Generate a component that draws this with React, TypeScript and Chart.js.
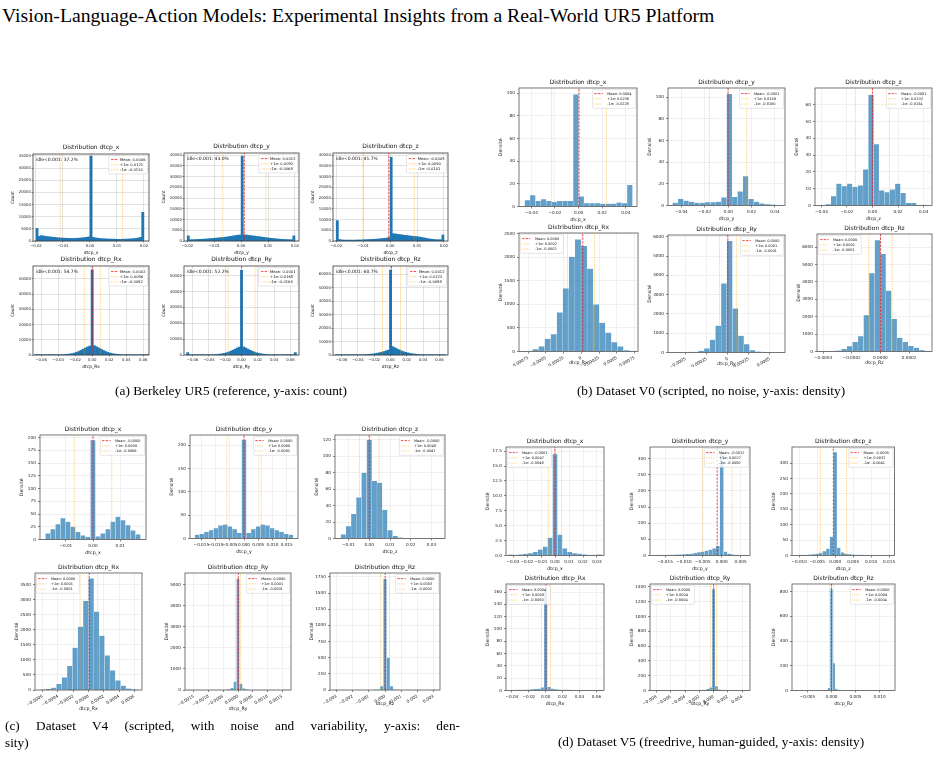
import React, { useEffect, useRef } from "react";
import { Chart, registerables } from "chart.js";

Chart.register(...registerables);

const SANS = "'DejaVu Sans', sans-serif";
const SERIF = "'Liberation Serif', 'Times New Roman', serif";

// ---------------- (a) Berkeley UR5: raw counts ----------------
const aTransBins = [-0.02, 0.0008]; // start, width (50 bins)
const aRotBins = [-0.0673, 0.00264]; // start, width (51 bins)
const aTransTicks = [-0.02, -0.01, 0, 0.01, 0.02];
const aTransTickLabels = ["−0.02", "−0.01", "0.00", "0.01", "0.02"];
const aRotTicks = [-0.06, -0.04, -0.02, 0, 0.02, 0.04, 0.06];
const aRotTickLabels = ["−0.06", "−0.04", "−0.02", "0.00", "0.02", "0.04", "0.06"];
const idleShares = [37.2, 43.0, 41.7, 54.7, 52.2, 60.7];

const a1Counts = [5200, 1900, 2200, 2100, 1900, 1800, 1700, 1600, 1500, 1400, 1300, 1250, 1200, 1150, 1100, 1100, 1050, 1050, 1100, 1150, 1200, 1300, 1400, 1500, 1700, 34900, 1500, 1300, 1150, 1050, 950, 900, 850, 800, 800, 750, 750, 700, 700, 700, 750, 750, 800, 850, 900, 1000, 1100, 1250, 1500, 11800];
const a2Counts = [2400, 600, 600, 650, 700, 750, 800, 850, 900, 1000, 1100, 1150, 1250, 1350, 1450, 1550, 1650, 1750, 1900, 2050, 2200, 2400, 2550, 2700, 2800, 39500, 2900, 2750, 2650, 2500, 2400, 2250, 2100, 2000, 1850, 1700, 1600, 1450, 1300, 1200, 1100, 1000, 900, 800, 750, 700, 650, 600, 600, 2400];
const a3Counts = [9500, 700, 500, 450, 400, 400, 400, 400, 420, 450, 480, 500, 550, 600, 650, 700, 750, 800, 850, 950, 1050, 1150, 1250, 1400, 1600, 39000, 3400, 3300, 3100, 3000, 2850, 2700, 2600, 2450, 2300, 2200, 2100, 2000, 1850, 1700, 1500, 1300, 1100, 950, 800, 700, 600, 550, 600, 2800];
const a4Counts = [250, 60, 60, 60, 70, 70, 80, 90, 100, 120, 150, 200, 260, 350, 480, 650, 900, 1250, 1700, 2300, 3000, 3800, 4600, 5300, 5900, 56000, 6100, 5400, 4600, 3800, 3000, 2300, 1700, 1250, 900, 650, 480, 350, 260, 200, 150, 120, 100, 90, 80, 70, 70, 60, 60, 60, 250];
const a5Counts = [1500, 50, 50, 50, 60, 60, 70, 80, 90, 110, 140, 180, 240, 320, 430, 580, 780, 1050, 1400, 1850, 2400, 3000, 3700, 4400, 5000, 53500, 5100, 4400, 3700, 3000, 2400, 1850, 1400, 1050, 780, 580, 430, 320, 240, 180, 140, 110, 90, 80, 70, 60, 60, 50, 50, 50, 1500];
const a6Counts = [300, 50, 50, 60, 60, 70, 80, 90, 100, 120, 150, 190, 240, 300, 380, 480, 620, 800, 1050, 1350, 1700, 2100, 2600, 3100, 3600, 63000, 6200, 5400, 4600, 3800, 3100, 2500, 2000, 1600, 1250, 950, 720, 540, 400, 300, 230, 180, 140, 110, 90, 80, 70, 60, 60, 50, 300];

// mean, +1 sigma, -1 sigma
const a1Stats = [0.0006, 0.0121, -0.011];
const a2Stats = [0.0012, 0.0092, -0.0068];
const a3Stats = [-0.0005, 0.009, -0.0101];
const a4Stats = [0.0002, 0.0096, -0.0092];
const a5Stats = [0.0001, 0.0165, -0.0164];
const a6Stats = [0.0012, 0.0123, -0.0098];

const a1YTicks = [0, 5000, 10000, 15000, 20000, 25000, 30000, 35000];
const a23YTicks = [0, 5000, 10000, 15000, 20000, 25000, 30000, 35000, 40000];
const a45YTicks = [0, 10000, 20000, 30000, 40000, 50000];
const a6YTicks = [0, 10000, 20000, 30000, 40000, 50000, 60000];

// ---------------- (b) Dataset V0: density ----------------
const bTransTicks = [-0.04, -0.02, 0, 0.02, 0.04];
const bTransTickLabels = ["−0.04", "−0.02", "0.00", "0.02", "0.04"];

const b1Bins = [-0.0457, 0.00457];
const b1Counts = [5.5, 10, 5, 6.5, 5, 4, 5, 5, 5, 99, 9, 3, 3, 3, 2.5, 2.5, 2.5, 3.5, 3, 19];
const b1Stats = [0.0004, 0.0236, -0.0228];
const b2Bins = [-0.0475, 0.004625];
const b2Counts = [2.5, 6, 4.5, 3.5, 2.5, 2.5, 3, 3, 3.5, 7.5, 103, 8, 13, 27, 6, 3.5, 2, 1.2, 0.8, 0.5];
const b2Stats = [-0.0001, 0.0159, -0.016];
const b3Bins = [-0.0409, 0.00418];
const b3Counts = [0.3, 0.8, 5.6, 13, 11.5, 13, 11, 12, 21.5, 66, 36.5, 9, 8, 9.5, 13, 7.5, 1.5, 1.5, 0.3, 0.3];
const b3Stats = [-0.0001, 0.0132, -0.0134];

const b4Bins = [-0.000775, 0.0000856];
const b4Counts = [15, 50, 110, 270, 370, 830, 1340, 2010, 2380, 2240, 1760, 1000, 610, 400, 200, 110, 30, 10];
const b4Stats = [0.00002, 0.000186, -0.000196];
const b4Ticks = [-0.00075, -0.0005, -0.00025, 0, 0.00025, 0.0005, 0.00075];
const b4TickLabels = ["−0.00075", "−0.0005", "−0.00025", "0", "0.00025", "0.0005", "0.00075"];
const b5Bins = [-0.000484, 0.0000675];
const b5Counts = [20, 35, 90, 210, 660, 1390, 3580, 5780, 2280, 870, 435, 120, 50, 20, 10];
const b5Stats = [0.000001, 0.000102, -0.000098];
const b5Ticks = [-0.0005, -0.00025, 0, 0.00025, 0.0005];
const b5TickLabels = ["−0.0005", "−0.00025", "0", "0.00025", "0.0005"];
const b6Bins = [-0.00035, 0.0000388];
const b6Counts = [20, 60, 150, 300, 550, 880, 2080, 4500, 6400, 5600, 3500, 1870, 800, 550, 320, 220, 80, 20];
const b6Stats = [0.000001, 0.000082, -0.000081];
const b6Ticks = [-0.0004, -0.0002, 0, 0.0002];
const b6TickLabels = ["−0.0004", "−0.0002", "0.0000", "0.0002"];

const b12YTicks = [0, 20, 40, 60, 80, 100];
const b3YTicks = [0, 10, 20, 30, 40, 50, 60];
const b4YTicks = [0, 500, 1000, 1500, 2000, 2500];
const b56YTicks = [0, 1000, 2000, 3000, 4000, 5000, 6000];

// ---------------- (c) Dataset V4: density ----------------
const c1Bins = [-0.0175, 0.00184];
const c1Counts = [12, 20, 30, 42, 35, 25, 15, 8, 5, 195, 6, 12, 20, 35, 45, 38, 28, 18, 10];
const c1Stats = [-0.00001, 0.0069, -0.0069];
const c1Ticks = [-0.01, 0, 0.01];
const c1TickLabels = ["−0.01", "0.00", "0.01"];
const c2Bins = [-0.017325, 0.00165];
const c2Counts = [8, 10, 14, 18, 22, 28, 30, 26, 20, 12, 212, 12, 20, 26, 30, 28, 22, 18, 14, 10, 8];
const c2Stats = [0.00001, 0.006, -0.006];
const c2Ticks = [-0.015, -0.01, -0.005, 0, 0.005, 0.01, 0.015];
const c2TickLabels = ["−0.015", "−0.010", "−0.005", "0.000", "0.005", "0.010", "0.015"];
const c3Bins = [-0.01375, 0.0025];
const c3Counts = [5, 15, 30, 50, 80, 120, 70, 68, 35, 10, 3, 1, 0, 0, 0, 0, 0, 0, 0.4];
const c3Stats = [-0.00001, 0.0048, -0.0047];
const c3Ticks = [-0.01, 0, 0.01, 0.02, 0.03];
const c3TickLabels = ["−0.01", "0.00", "0.01", "0.02", "0.03"];

const c4Bins = [-0.00063, 0.00007];
const c4Counts = [10, 30, 80, 200, 420, 800, 1400, 2100, 2950, 3700, 2600, 1800, 1150, 650, 320, 140, 50, 15];
const c4Stats = [0.00001, 0.00012, -0.00011];
const c4Ticks = [-0.0006, -0.0004, -0.0002, 0, 0.0002, 0.0004, 0.0006];
const c4TickLabels = ["−0.0006", "−0.0004", "−0.0002", "0.0000", "0.0002", "0.0004", "0.0006"];
const c5Bins = [-0.00165, 0.0001];
const c5Counts = [5, 0, 0, 0, 0, 0, 0, 0, 0, 0, 0, 0, 10, 30, 100, 400, 5300, 300, 80, 25, 0, 0, 0, 0, 0, 0, 0, 0, 0, 0, 0, 0, 5];
const c5Stats = [0.00001, 0.00009, -0.00009];
const c5Ticks = [-0.0015, -0.001, -0.0005, 0, 0.0005, 0.001, 0.0015];
const c5TickLabels = ["−0.0015", "−0.0010", "−0.0005", "0.0000", "0.0005", "0.0010", "0.0015"];
const c6Bins = [-0.0031, 0.0002];
const c6Counts = [3, 0, 0, 0, 0, 0, 0, 0, 0, 0, 0, 0, 2, 8, 60, 1720, 500, 60, 8, 2, 0, 0, 0, 0, 0, 0, 0, 0, 0, 0, 3];
const c6Stats = [0.00001, 0.00028, -0.00027];
const c6Ticks = [-0.003, -0.002, -0.001, 0, 0.001, 0.002, 0.003];
const c6TickLabels = ["−0.003", "−0.002", "−0.001", "0.000", "0.001", "0.002", "0.003"];

const c1YTicks = [0, 25, 50, 75, 100, 125, 150, 175, 200];
const c2YTicks = [0, 50, 100, 150, 200];
const c3YTicks = [0, 20, 40, 60, 80, 100, 120];
const c4YTicks = [0, 500, 1000, 1500, 2000, 2500, 3000, 3500];
const c5YTicks = [0, 1000, 2000, 3000, 4000, 5000];
const c6YTicks = [0, 250, 500, 750, 1000, 1250, 1500, 1750];

// ---------------- (d) Dataset V5: density ----------------
const d1Bins = [-0.03325, 0.0035];
const d1Counts = [0.2, 0.1, 0.2, 0.3, 0.4, 0.6, 1.0, 1.5, 3.0, 17, 3.5, 1.2, 0.6, 0.4, 0.3, 0.2, 0.1, 0.1, 0.2];
const d1Stats = [-0.0001, 0.0047, -0.0048];
const d1Ticks = [-0.03, -0.02, -0.01, 0, 0.01, 0.02, 0.03];
const d1TickLabels = ["−0.03", "−0.02", "−0.01", "0.00", "0.01", "0.02", "0.03"];
const d2Bins = [-0.0175, 0.001];
const d2Counts = [2, 1, 1, 2, 2, 3, 3, 4, 5, 6, 8, 10, 12, 15, 18, 22, 30, 320, 12, 6, 3, 2, 1, 1];
const d2Stats = [-0.0012, 0.0027, -0.005];
const d2Ticks = [-0.015, -0.01, -0.005, 0, 0.005];
const d2TickLabels = ["−0.015", "−0.010", "−0.005", "0.000", "0.005"];
const d3Bins = [-0.0105, 0.001];
const d3Counts = [1, 1, 2, 3, 4, 6, 9, 14, 22, 60, 335, 25, 10, 6, 4, 3, 2, 2, 1, 1, 1, 0.5, 0.5, 0.5, 0.5, 0.5];
const d3Stats = [-0.0005, 0.0032, -0.0041];
const d3Ticks = [-0.01, -0.005, 0, 0.005, 0.01, 0.015];
const d3TickLabels = ["−0.010", "−0.005", "0.000", "0.005", "0.010", "0.015"];

const d4Bins = [-0.042, 0.004];
const d4Counts = [0.5, 0.5, 1, 1, 1, 1.5, 2, 2.5, 3, 5, 165, 6, 3, 2, 1.5, 1, 1, 1, 0.5, 0.5, 0.5, 0.5, 0.5, 0.3, 0.3, 0.3, 0.5];
const d4Stats = [0.0004, 0.0058, -0.005];
const d4Ticks = [-0.04, -0.02, 0, 0.02, 0.04, 0.06];
const d4TickLabels = ["−0.04", "−0.02", "0.00", "0.02", "0.04", "0.06"];
const d5Bins = [-0.0082, 0.0004];
const d5Counts = [0.5, 0, 0, 0, 0, 0, 0, 0, 0, 0, 0, 0, 0, 0, 2, 4, 6, 10, 20, 40, 1370, 60, 15, 5, 2, 1, 0, 0, 0, 0, 0, 0.5];
const d5Stats = [0.00001, 0.00041, -0.0004];
const d5Ticks = [-0.008, -0.006, -0.004, -0.002, 0, 0.002, 0.004];
const d5TickLabels = ["−0.008", "−0.006", "−0.004", "−0.002", "0.000", "0.002", "0.004"];
const d6Bins = [-0.00725, 0.0005];
const d6Counts = [1, 0, 0, 0, 0, 0, 0, 0, 0, 0, 0, 2, 5, 20, 820, 220, 15, 5, 2, 0, 0, 0, 0, 0, 0, 0, 0, 0, 0, 0, 0, 0, 0, 0, 0, 0, 0, 0, 0, 1];
const d6Stats = [0.00001, 0.00041, -0.00039];
const d6Ticks = [-0.005, 0, 0.005, 0.01];
const d6TickLabels = ["−0.005", "0.000", "0.005", "0.010"];

const d1YTicks = [0, 2.5, 5, 7.5, 10, 12.5, 15, 17.5];
const d23YTicks = [0, 50, 100, 150, 200, 250, 300];
const d4YTicks = [0, 20, 40, 60, 80, 100, 120, 140, 160];
const d5YTicks = [0, 200, 400, 600, 800, 1000, 1200, 1400];
const d6YTicks = [0, 200, 400, 600, 800];

// ---------------- chart table ----------------
type Def = {
  key: string; panel: "a" | "b"; title: string; xlabel: string; ylabel: string;
  bins: number[]; counts: number[]; stats: number[];
  xRange: number[]; xTicks: number[]; xTickLabels: string[]; rot?: number;
  yMax: number; yTicks: number[]; yDec: number;
  legend: "left" | "right"; idle?: number; gutB?: number;
};

const CHARTS: Def[] = [
  { key: "a1", panel: "a", title: "Distribution dtcp_x", xlabel: "dtcp_x", ylabel: "Count", bins: aTransBins, counts: a1Counts, stats: a1Stats, xRange: [-0.0211, 0.0219], xTicks: aTransTicks, xTickLabels: aTransTickLabels, yMax: 35800, yTicks: a1YTicks, yDec: 0, legend: "right", idle: idleShares[0] },
  { key: "a2", panel: "a", title: "Distribution dtcp_y", xlabel: "dtcp_y", ylabel: "Count", bins: aTransBins, counts: a2Counts, stats: a2Stats, xRange: [-0.0212, 0.0215], xTicks: aTransTicks, xTickLabels: aTransTickLabels, yMax: 41000, yTicks: a23YTicks, yDec: 0, legend: "right", idle: idleShares[1] },
  { key: "a3", panel: "a", title: "Distribution dtcp_z", xlabel: "dtcp_z", ylabel: "Count", bins: aTransBins, counts: a3Counts, stats: a3Stats, xRange: [-0.0212, 0.0215], xTicks: aTransTicks, xTickLabels: aTransTickLabels, yMax: 41000, yTicks: a23YTicks, yDec: 0, legend: "right", idle: idleShares[2] },
  { key: "a4", panel: "a", title: "Distribution dtcp_Rx", xlabel: "dtcp_Rx", ylabel: "Count", bins: aRotBins, counts: a4Counts, stats: a4Stats, xRange: [-0.0694, 0.0667], xTicks: aRotTicks, xTickLabels: aRotTickLabels, yMax: 58500, yTicks: a45YTicks, yDec: 0, legend: "right", idle: idleShares[3] },
  { key: "a5", panel: "a", title: "Distribution dtcp_Ry", xlabel: "dtcp_Ry", ylabel: "Count", bins: aRotBins, counts: a5Counts, stats: a5Stats, xRange: [-0.0705, 0.0705], xTicks: aRotTicks, xTickLabels: aRotTickLabels, yMax: 56200, yTicks: a45YTicks, yDec: 0, legend: "right", idle: idleShares[4] },
  { key: "a6", panel: "a", title: "Distribution dtcp_Rz", xlabel: "dtcp_Rz", ylabel: "Count", bins: aRotBins, counts: a6Counts, stats: a6Stats, xRange: [-0.0705, 0.0705], xTicks: aRotTicks, xTickLabels: aRotTickLabels, yMax: 66000, yTicks: a6YTicks, yDec: 0, legend: "right", idle: idleShares[5] },

  { key: "b1", panel: "b", title: "Distribution dtcp_x", xlabel: "dtcp_x", ylabel: "Densité", bins: b1Bins, counts: b1Counts, stats: b1Stats, xRange: [-0.0505, 0.0495], xTicks: bTransTicks, xTickLabels: bTransTickLabels, yMax: 104.7, yTicks: b12YTicks, yDec: 0, legend: "right" },
  { key: "b2", panel: "b", title: "Distribution dtcp_y", xlabel: "dtcp_y", ylabel: "Densité", bins: b2Bins, counts: b2Counts, stats: b2Stats, xRange: [-0.0514, 0.0486], xTicks: bTransTicks, xTickLabels: bTransTickLabels, yMax: 108.4, yTicks: b12YTicks, yDec: 0, legend: "right" },
  { key: "b3", panel: "b", title: "Distribution dtcp_z", xlabel: "dtcp_z", ylabel: "Densité", bins: b3Bins, counts: b3Counts, stats: b3Stats, xRange: [-0.045, 0.0465], xTicks: bTransTicks, xTickLabels: bTransTickLabels, yMax: 70, yTicks: b3YTicks, yDec: 0, legend: "right" },
  { key: "b4", panel: "b", title: "Distribution dtcp_Rx", xlabel: "dtcp_Rx", ylabel: "Densité", bins: b4Bins, counts: b4Counts, stats: b4Stats, xRange: [-0.00088, 0.0008], xTicks: b4Ticks, xTickLabels: b4TickLabels, rot: 30, yMax: 2515, yTicks: b4YTicks, yDec: 0, legend: "left", gutB: 14.5 },
  { key: "b5", panel: "b", title: "Distribution dtcp_Ry", xlabel: "dtcp_Ry", ylabel: "Densité", bins: b5Bins, counts: b5Counts, stats: b5Stats, xRange: [-0.00071, 0.00068], xTicks: b5Ticks, xTickLabels: b5TickLabels, rot: 30, yMax: 6090, yTicks: b56YTicks, yDec: 0, legend: "right", gutB: 14.5 },
  { key: "b6", panel: "b", title: "Distribution dtcp_Rz", xlabel: "dtcp_Rz", ylabel: "Densité", bins: b6Bins, counts: b6Counts, stats: b6Stats, xRange: [-0.000442, 0.00036], xTicks: b6Ticks, xTickLabels: b6TickLabels, yMax: 6750, yTicks: b56YTicks, yDec: 0, legend: "left", gutB: 14.5 },

  { key: "c1", panel: "b", title: "Distribution dtcp_x", xlabel: "dtcp_x", ylabel: "Densité", bins: c1Bins, counts: c1Counts, stats: c1Stats, xRange: [-0.0195, 0.0195], xTicks: c1Ticks, xTickLabels: c1TickLabels, yMax: 205, yTicks: c1YTicks, yDec: 0, legend: "right" },
  { key: "c2", panel: "b", title: "Distribution dtcp_y", xlabel: "dtcp_y", ylabel: "Densité", bins: c2Bins, counts: c2Counts, stats: c2Stats, xRange: [-0.019, 0.019], xTicks: c2Ticks, xTickLabels: c2TickLabels, yMax: 222, yTicks: c2YTicks, yDec: 0, legend: "right" },
  { key: "c3", panel: "b", title: "Distribution dtcp_z", xlabel: "dtcp_z", ylabel: "Densité", bins: c3Bins, counts: c3Counts, stats: c3Stats, xRange: [-0.0165, 0.0365], xTicks: c3Ticks, xTickLabels: c3TickLabels, yMax: 126, yTicks: c3YTicks, yDec: 0, legend: "right" },
  { key: "c4", panel: "b", title: "Distribution dtcp_Rx", xlabel: "dtcp_Rx", ylabel: "Densité", bins: c4Bins, counts: c4Counts, stats: c4Stats, xRange: [-0.0007, 0.0007], xTicks: c4Ticks, xTickLabels: c4TickLabels, rot: 30, yMax: 3880, yTicks: c4YTicks, yDec: 0, legend: "left", gutB: 22 },
  { key: "c5", panel: "b", title: "Distribution dtcp_Ry", xlabel: "dtcp_Ry", ylabel: "Densité", bins: c5Bins, counts: c5Counts, stats: c5Stats, xRange: [-0.0018, 0.0018], xTicks: c5Ticks, xTickLabels: c5TickLabels, rot: 30, yMax: 5560, yTicks: c5YTicks, yDec: 0, legend: "right", gutB: 22 },
  { key: "c6", panel: "b", title: "Distribution dtcp_Rz", xlabel: "dtcp_Rz", ylabel: "Densité", bins: c6Bins, counts: c6Counts, stats: c6Stats, xRange: [-0.0034, 0.0034], xTicks: c6Ticks, xTickLabels: c6TickLabels, rot: 30, yMax: 1810, yTicks: c6YTicks, yDec: 0, legend: "right", gutB: 17 },

  { key: "d1", panel: "b", title: "Distribution dtcp_x", xlabel: "dtcp_x", ylabel: "Densité", bins: d1Bins, counts: d1Counts, stats: d1Stats, xRange: [-0.035, 0.035], xTicks: d1Ticks, xTickLabels: d1TickLabels, yMax: 18.2, yTicks: d1YTicks, yDec: 1, legend: "left" },
  { key: "d2", panel: "b", title: "Distribution dtcp_y", xlabel: "dtcp_y", ylabel: "Densité", bins: d2Bins, counts: d2Counts, stats: d2Stats, xRange: [-0.019, 0.0075], xTicks: d2Ticks, xTickLabels: d2TickLabels, yMax: 336, yTicks: d23YTicks, yDec: 0, legend: "right" },
  { key: "d3", panel: "b", title: "Distribution dtcp_z", xlabel: "dtcp_z", ylabel: "Densité", bins: d3Bins, counts: d3Counts, stats: d3Stats, xRange: [-0.012, 0.0165], xTicks: d3Ticks, xTickLabels: d3TickLabels, yMax: 352, yTicks: d23YTicks, yDec: 0, legend: "right" },
  { key: "d4", panel: "b", title: "Distribution dtcp_Rx", xlabel: "dtcp_Rx", ylabel: "Densité", bins: d4Bins, counts: d4Counts, stats: d4Stats, xRange: [-0.047, 0.069], xTicks: d4Ticks, xTickLabels: d4TickLabels, yMax: 173, yTicks: d4YTicks, yDec: 0, legend: "left" },
  { key: "d5", panel: "b", title: "Distribution dtcp_Ry", xlabel: "dtcp_Ry", ylabel: "Densité", bins: d5Bins, counts: d5Counts, stats: d5Stats, xRange: [-0.0089, 0.0051], xTicks: d5Ticks, xTickLabels: d5TickLabels, rot: 30, yMax: 1440, yTicks: d5YTicks, yDec: 0, legend: "left" },
  { key: "d6", panel: "b", title: "Distribution dtcp_Rz", xlabel: "dtcp_Rz", ylabel: "Densité", bins: d6Bins, counts: d6Counts, stats: d6Stats, xRange: [-0.0082, 0.0132], xTicks: d6Ticks, xTickLabels: d6TickLabels, yMax: 861, yTicks: d6YTicks, yDec: 0, legend: "right" },
];

// plot-area rectangles on the page: left, top, width, height
const PLOT_RECTS: Record<string, number[]> = {
  a1: [33, 154, 116, 87], a2: [184, 153, 115, 88], a3: [333, 153, 115, 88],
  a4: [33, 266, 116, 89], a5: [184, 266, 115, 89], a6: [333, 266, 115, 89],
  b1: [519, 88, 118, 118], b2: [668, 88, 117, 117], b3: [815, 88, 117, 117],
  b4: [519, 233, 119, 118], b5: [668, 235, 117, 117], b6: [817, 234, 115, 117],
  c1: [40, 435, 106, 104], c2: [190, 435, 108, 103], c3: [335, 435, 110, 103],
  c4: [35, 573, 107, 117], c5: [185, 573, 106, 117], c6: [330, 573, 110, 117],
  d1: [506, 447, 98, 108], d2: [650, 447, 100, 108], d3: [792, 447, 103, 108],
  d4: [506, 584, 98, 106], d5: [650, 584, 100, 106], d6: [792, 584, 103, 106],
};

const STYLES: Record<string, any> = {
  a: {
    title: 6, tick: 3.8, label: 4.4, idle: 4.5,
    legend: { size: 3.7, padL: 0.6, handle: 2, gap: 0.45, padR: 0.55, padV: 0.4, row: 1.4 },
    gutL: 24, gutT: 11, gutR: 2, gutB: 15, extL: 6, extB: 8,
    titlePad: 3.4, tickLen: 1.4, padX: 1.3, padY: 0.8, xTitlePad: 0.4, yTitlePad: 1.4,
    bar: "#1f77b4", edge: "rgba(0,0,0,0)", edgeW: 0,
    grid: "rgba(150,150,150,0.45)", frame: "#3a3a3a",
  },
  b: {
    title: 6, tick: 4.2, label: 4.7, idle: 4.5,
    legend: { size: 3.5, padL: 0.5, handle: 2.4, gap: 1.3, padR: 1.2, padV: 0.45, row: 1.5 },
    gutL: 22, gutT: 11, gutR: 2, gutB: 16.5, extL: 6, extB: 12,
    titlePad: 2.4, tickLen: 2, padX: 1.8, padY: 2.2, xTitlePad: 0.5, yTitlePad: 0.9,
    bar: "rgba(31,119,180,0.7)", edge: "rgba(255,255,255,0.55)", edgeW: 0.4,
    grid: "rgba(176,176,176,0.3)", frame: "#555",
  },
};

// frame, idle annotation and the mean / sigma legend drawn over each axes
const decorPlugin = {
  id: "decor",
  afterDraw(chart: any, _args: any, opts: any) {
    const { ctx, chartArea: ca } = chart;
    const w = ca.right - ca.left;
    ctx.save();
    ctx.strokeStyle = opts.frame;
    ctx.lineWidth = 0.8;
    ctx.strokeRect(ca.left, ca.top, w, ca.bottom - ca.top);

    if (opts.idle) {
      ctx.font = `${opts.idleSize}px ${SANS}`;
      ctx.fillStyle = "#111";
      ctx.textAlign = "left";
      ctx.textBaseline = "middle";
      ctx.fillText(opts.idle, ca.left + 0.025 * w, ca.top + opts.idleSize * 1.2);
    }

    const L = opts.legend;
    const fs = L.size;
    ctx.font = `${fs}px ${SANS}`;
    const sets = chart.data.datasets.slice(1);
    const tw = Math.max(...sets.map((d: any) => ctx.measureText(d.label).width));
    const rowH = L.row * fs;
    const bw = (L.padL + L.handle + L.gap + L.padR) * fs + tw;
    const bh = 2 * L.padV * fs + rowH * sets.length;
    const m = 0.4 * fs;
    const x0 = opts.side === "right" ? ca.right - m - bw : ca.left + m;
    const y0 = ca.top + m;
    ctx.beginPath();
    ctx.roundRect(x0, y0, bw, bh, 1);
    ctx.fillStyle = "rgba(255,255,255,0.85)";
    ctx.fill();
    ctx.strokeStyle = "#cccccc";
    ctx.lineWidth = 0.5;
    ctx.stroke();
    sets.forEach((d: any, i: number) => {
      const cy = y0 + L.padV * fs + rowH * (i + 0.5);
      const hx = x0 + L.padL * fs;
      ctx.beginPath();
      ctx.setLineDash(d.borderDash || []);
      ctx.strokeStyle = d.borderColor;
      ctx.lineWidth = d.borderWidth;
      ctx.moveTo(hx, cy);
      ctx.lineTo(hx + L.handle * fs, cy);
      ctx.stroke();
      ctx.setLineDash([]);
      ctx.fillStyle = "#111";
      ctx.textAlign = "left";
      ctx.textBaseline = "middle";
      ctx.fillText(d.label, hx + (L.handle + L.gap) * fs, cy);
    });
    ctx.restore();
  },
};

function buildConfig(def: Def, st: any) {
  const [start, width] = def.bins;
  const bars = def.counts.map((c, i) => ({ x: start + width * (i + 0.5), y: c }));
  const [mean, plus, minus] = def.stats;
  const vline = (v: number) => [{ x: v, y: 0 }, { x: v, y: def.yMax }];
  const gutB = def.gutB ?? st.gutB;
  const titleH = st.title * 1.2 + st.titlePad;
  const tickFont = { family: SANS, size: st.tick };
  const labelFont = { family: SANS, size: st.label };
  const rot = def.rot ?? 0;
  const sigmaStyle = { borderColor: "rgba(255,165,0,0.85)", borderWidth: 0.8, borderDash: [0.7, 1.0] };

  return {
    type: "bar",
    data: {
      datasets: [
        { type: "bar", data: bars, backgroundColor: st.bar, borderColor: st.edge, borderWidth: st.edgeW, barPercentage: 1, categoryPercentage: 1, order: 5 },
        { type: "line", label: `Mean: ${mean.toFixed(4)}`, data: vline(mean), borderColor: "rgba(235,20,20,0.85)", borderWidth: 0.9, borderDash: [2.4, 1.2], pointRadius: 0, order: 1 },
        { type: "line", label: `+1σ: ${plus.toFixed(4)}`, data: vline(plus), ...sigmaStyle, pointRadius: 0, order: 2 },
        { type: "line", label: `-1σ: ${minus.toFixed(4)}`, data: vline(minus), ...sigmaStyle, pointRadius: 0, order: 3 },
      ],
    },
    options: {
      responsive: false,
      animation: false,
      events: [],
      layout: { autoPadding: false, padding: { left: st.extL, right: st.gutR, top: st.gutT - titleH, bottom: st.extB } },
      plugins: {
        legend: { display: false },
        tooltip: { enabled: false },
        title: { display: true, text: def.title, fullSize: false, color: "#111", font: { family: SANS, size: st.title, weight: "normal" }, padding: { top: 0, bottom: st.titlePad } },
        decor: {
          frame: st.frame, side: def.legend, legend: st.legend, idleSize: st.idle,
          idle: def.idle !== undefined ? `idle<0.001: ${def.idle.toFixed(1)}%` : null,
        },
      },
      scales: {
        x: {
          type: "linear", min: def.xRange[0], max: def.xRange[1], offset: false,
          afterBuildTicks: (s: any) => { s.ticks = def.xTicks.map((v) => ({ value: v })); },
          afterFit: (s: any) => { s.height = gutB; },
          ticks: { autoSkip: false, minRotation: rot, maxRotation: rot, padding: st.padX, color: "#222", font: tickFont, callback: (_v: any, i: number) => def.xTickLabels[i] },
          grid: { offset: false, color: st.grid, lineWidth: 0.6, drawTicks: true, tickLength: st.tickLen, tickColor: "#333", tickWidth: 0.6 },
          border: { display: false },
          title: { display: true, text: def.xlabel, color: "#111", font: labelFont, padding: { top: 0, bottom: st.xTitlePad } },
        },
        y: {
          type: "linear", min: 0, max: def.yMax,
          afterBuildTicks: (s: any) => { s.ticks = def.yTicks.map((v) => ({ value: v })); },
          afterFit: (s: any) => { s.width = st.gutL; },
          ticks: { padding: st.padY, color: "#222", font: tickFont, callback: (_v: any, i: number) => def.yTicks[i].toFixed(def.yDec) },
          grid: { color: st.grid, lineWidth: 0.6, drawTicks: true, tickLength: st.tickLen, tickColor: "#333", tickWidth: 0.6 },
          border: { display: false },
          title: { display: true, text: def.ylabel, color: "#111", font: labelFont, padding: { top: st.yTitlePad, bottom: 0 } },
        },
      },
    },
    plugins: [decorPlugin],
  };
}

function Histogram({ def }: { def: Def }) {
  const ref = useRef<HTMLCanvasElement>(null);
  const st = STYLES[def.panel];
  const [x, y, w, h] = PLOT_RECTS[def.key];
  const gutB = def.gutB ?? st.gutB;
  const left = Math.round(x - st.gutL - st.extL);
  const top = Math.round(y - st.gutT);
  const cw = Math.round(w + st.gutL + st.extL + st.gutR);
  const ch = Math.round(h + st.gutT + gutB + st.extB);

  useEffect(() => {
    if (!ref.current) return;
    const chart = new Chart(ref.current, buildConfig(def, st) as any);
    return () => chart.destroy();
  }, []);

  return (
    <div style={{ position: "absolute", left, top, width: cw, height: ch }}>
      <canvas ref={ref} width={cw} height={ch} style={{ display: "block", width: cw, height: ch }} />
    </div>
  );
}

const captionStyle: React.CSSProperties = {
  position: "absolute", fontFamily: SERIF, fontSize: 13.3, lineHeight: "17px", color: "#000", whiteSpace: "nowrap",
};

export default function App() {
  return (
    <div style={{ position: "absolute", left: 0, top: 0, width: 941, height: 758, background: "#fff", overflow: "hidden" }}>
      <div style={{ position: "absolute", left: 2, top: 3, fontFamily: SERIF, fontSize: 19.7, lineHeight: "24px", color: "#000", whiteSpace: "nowrap" }}>
        Vision-Language-Action Models: Experimental Insights from a Real-World UR5 Platform
      </div>
      {CHARTS.map((d) => (
        <Histogram key={d.key} def={d} />
      ))}
      <div style={{ ...captionStyle, left: 0, width: 462, top: 382, textAlign: "center" }}>
        (a) Berkeley UR5 (reference, y-axis: count)
      </div>
      <div style={{ ...captionStyle, left: 480, width: 462, top: 382, textAlign: "center" }}>
        (b) Dataset V0 (scripted, no noise, y-axis: density)
      </div>
      <div style={{ ...captionStyle, left: 5, width: 455, top: 717, textAlign: "justify", textAlignLast: "justify" }}>
        (c) Dataset V4 (scripted, with noise and variability, y-axis: den-
      </div>
      <div style={{ ...captionStyle, left: 5, top: 734 }}>sity)</div>
      <div style={{ ...captionStyle, left: 480, width: 462, top: 733, textAlign: "center" }}>
        (d) Dataset V5 (freedrive, human-guided, y-axis: density)
      </div>
    </div>
  );
}
